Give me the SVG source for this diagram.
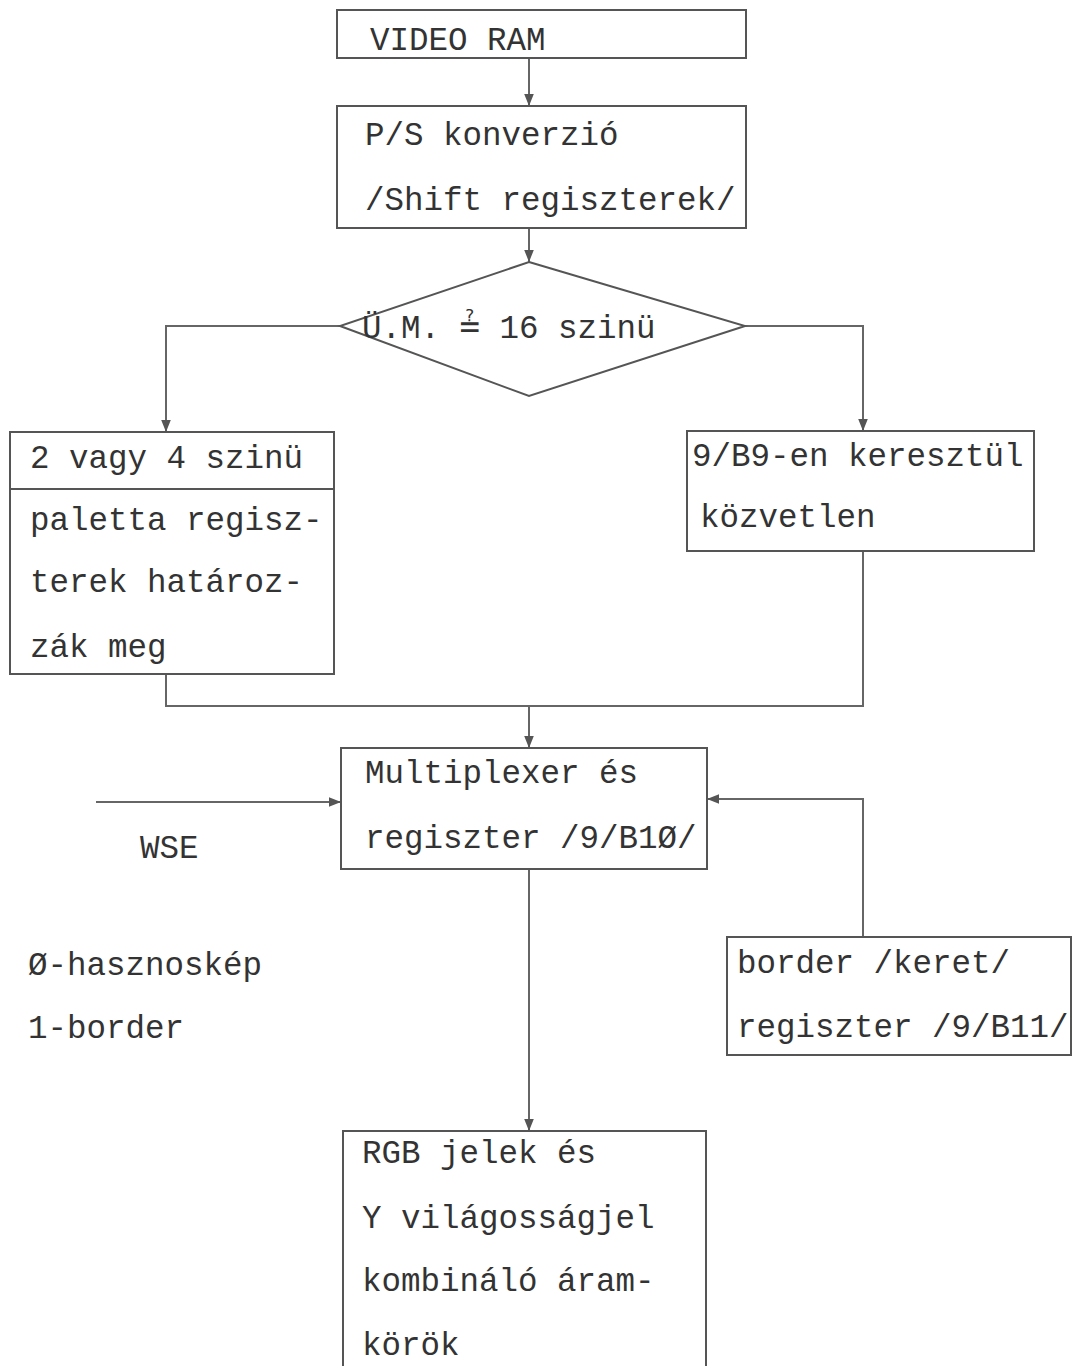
<svg xmlns="http://www.w3.org/2000/svg" width="1074" height="1366" viewBox="0 0 1074 1366">
<style>
.box{fill:none;stroke:#555;stroke-width:2}
.ln{fill:none;stroke:#666;stroke-width:2}
text{font-family:"Liberation Mono","Courier New",monospace;font-size:32.5px;fill:#333}
.sym{font-family:"DejaVu Sans Mono","DejaVu Sans",monospace;font-size:34px}
</style>
<defs>
<marker id="ah" viewBox="0 0 10 10" refX="10" refY="5" markerWidth="12" markerHeight="12" markerUnits="userSpaceOnUse" orient="auto">
<path d="M0,1 L10,5 L0,9 z" fill="#555"/>
</marker>
</defs>
<rect width="1074" height="1366" fill="#fff"/>
<g id="connectors">
<line class="ln" x1="529" y1="58" x2="529" y2="106" marker-end="url(#ah)"/>
<line class="ln" x1="529" y1="228" x2="529" y2="262" marker-end="url(#ah)"/>
<polyline class="ln" points="340,326 166,326 166,432" marker-end="url(#ah)"/>
<polyline class="ln" points="745,326 863,326 863,431" marker-end="url(#ah)"/>
<polyline class="ln" points="166,674 166,706 863,706 863,551"/>
<line class="ln" x1="529" y1="706" x2="529" y2="748" marker-end="url(#ah)"/>
<line class="ln" x1="96" y1="802" x2="341" y2="802" marker-end="url(#ah)"/>
<polyline class="ln" points="863,937 863,799 707,799" marker-end="url(#ah)"/>
<line class="ln" x1="529" y1="869" x2="529" y2="1131" marker-end="url(#ah)"/>
</g>
<g id="videoram">
<rect class="box" x="337" y="10" width="409" height="48"/>
<text x="370" y="50">VIDEO RAM</text>
</g>
<g id="ps">
<rect class="box" x="337" y="106" width="409" height="122"/>
<text x="365" y="145">P/S konverzió</text>
<text x="365" y="210">/Shift regiszterek/</text>
</g>
<g id="decision">
<polygon class="box" points="529,262 745,326 529,396 340,326"/>
<text x="362" y="338">Ü.M. <tspan class="sym">≟</tspan> 16 szinü</text>
</g>
<g id="paletta">
<rect class="box" x="10" y="432" width="324" height="242"/>
<line class="box" x1="10" y1="489" x2="334" y2="489"/>
<text x="30" y="468">2 vagy 4 szinü</text>
<text x="30" y="530">paletta regisz-</text>
<text x="30" y="592">terek határoz-</text>
<text x="30" y="657">zák meg</text>
</g>
<g id="kozvetlen">
<rect class="box" x="687" y="431" width="347" height="120"/>
<text x="692" y="466">9/B9-en keresztül</text>
<text x="700" y="527">közvetlen</text>
</g>
<g id="mux">
<rect class="box" x="341" y="748" width="366" height="121"/>
<text x="365" y="783">Multiplexer és</text>
<text x="365" y="848">regiszter /9/B1Ø/</text>
</g>
<g id="wse">
<text x="140" y="858">WSE</text>
</g>
<g id="legend">
<text x="28" y="975">Ø-hasznoskép</text>
<text x="28" y="1038">1-border</text>
</g>
<g id="border">
<rect class="box" x="727" y="937" width="344" height="118"/>
<text x="737" y="973">border /keret/</text>
<text x="737" y="1037">regiszter /9/B11/</text>
</g>
<g id="rgb">
<rect class="box" x="343" y="1131" width="363" height="250"/>
<text x="362" y="1163">RGB jelek és</text>
<text x="362" y="1228">Y világosságjel</text>
<text x="362" y="1291">kombináló áram-</text>
<text x="362" y="1355">körök</text>
</g>
</svg>
